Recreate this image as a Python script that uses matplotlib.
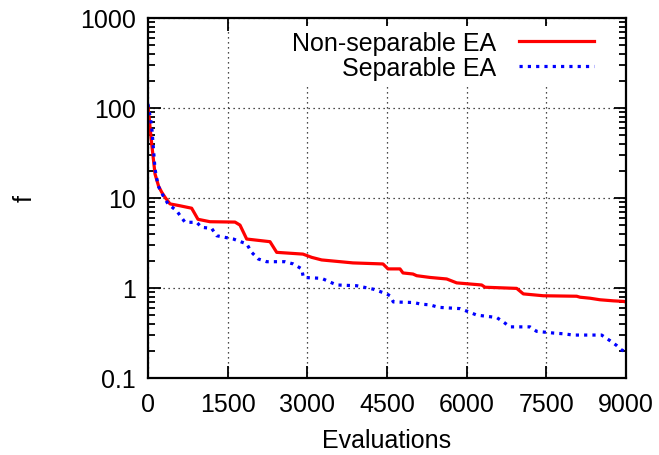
import numpy as np
import matplotlib; matplotlib.use("Agg")
import matplotlib.pyplot as plt
from matplotlib.ticker import FixedLocator, LogLocator, NullFormatter

plt.rcParams["font.family"] = ["Liberation Sans", "DejaVu Sans"]

# best-so-far f vs evaluations
nonsep_x = [0, 20, 60, 132, 200, 258, 320, 414, 600, 822, 941, 1167, 1638, 1732, 1858,
            2297, 2423, 2918, 3082, 3270, 3860, 4425, 4519, 4745, 4801, 4989, 5059, 5310,
            5624, 5812, 6283, 6345, 6942, 7067, 7443, 8072, 8134, 8322, 8510, 8761, 8950, 9000]
nonsep_y = [102, 80, 45, 18.5, 13.5, 11.6, 10.2, 8.6, 8.2, 7.7, 5.8, 5.45, 5.4, 5.0, 3.5,
            3.27, 2.49, 2.38, 2.19, 2.05, 1.9, 1.85, 1.63, 1.63, 1.47, 1.43, 1.37, 1.31,
            1.26, 1.14, 1.08, 1.02, 0.99, 0.86, 0.82, 0.81, 0.79, 0.77, 0.74, 0.72, 0.71, 0.70]

sep_x = [0, 69, 132, 190, 285, 377, 540, 697, 916, 1010, 1198, 1293, 1607, 1858, 1952,
         2077, 2234, 2580, 2736, 2894, 2925, 3270, 3553, 3929, 4243, 4494, 4556, 4619,
         4995, 5153, 5310, 5467, 5875, 6032, 6189, 6565, 6690, 6816, 7192, 7317, 7631,
         7819, 8008, 8541, 8698, 8823, 8917, 9000]
sep_y = [111, 63, 21, 13.7, 10.6, 8.6, 7.2, 5.37, 5.37, 4.72, 4.6, 3.81, 3.5, 3.09, 2.49,
         2.1, 1.96, 1.96, 1.85, 1.63, 1.31, 1.28, 1.08, 1.06, 0.97, 0.86, 0.82, 0.70,
         0.69, 0.66, 0.65, 0.61, 0.59, 0.545, 0.50, 0.47, 0.42, 0.37, 0.37, 0.33, 0.316,
         0.31, 0.30, 0.30, 0.26, 0.23, 0.205, 0.195]

x_ticks = [0, 1500, 3000, 4500, 6000, 7500, 9000]
y_ticks = [0.1, 1, 10, 100, 1000]
y_labels = ["0.1", "1", "10", "100", "1000"]

fig = plt.figure(figsize=(6.59, 4.56), dpi=100)
ax = fig.add_axes([148/659, 1-379/456, (626-148)/659, (379-19)/456])

ax.plot(nonsep_x, nonsep_y, "-", color="#ff0000", lw=2.3, label="Non-separable EA")
ax.plot(sep_x, sep_y, color="#0000ff", lw=2.3, ls=(0, (1, 1.6)), label="Separable EA")

ax.set_yscale("log")
ax.set_xlim(0, 9000); ax.set_ylim(0.1, 1000)
ax.xaxis.set_major_locator(FixedLocator(x_ticks))
ax.yaxis.set_major_locator(FixedLocator(y_ticks))
ax.set_yticklabels(y_labels)
ax.yaxis.set_minor_locator(LogLocator(base=10, subs=np.arange(2, 10)))
ax.yaxis.set_minor_formatter(NullFormatter())
ax.tick_params(which="both", direction="in", top=True, right=True, labelsize=18)
ax.tick_params(axis="y", pad=9)
ax.tick_params(axis="x", pad=10)
ax.tick_params(which="major", length=9, width=1.3)
ax.tick_params(which="minor", length=5, width=1.3)
for s in ax.spines.values(): s.set_linewidth(1.6)

ax.grid(True, which="major", color="#111111", lw=0.9, ls=(0, (1, 3)))
ax.set_xlabel("Evaluations", fontsize=18, labelpad=9)
ax.set_ylabel("f", fontsize=18, labelpad=31)

leg = ax.legend(loc="upper right", bbox_to_anchor=(0.954, 0.992), frameon=True, fontsize=18,
                markerfirst=False, handlelength=3.0, handletextpad=0.9, labelspacing=0.05,
                borderaxespad=0.2, borderpad=0.2, fancybox=False)
leg.get_frame().set_edgecolor("none"); leg.get_frame().set_facecolor("white")
leg.get_frame().set_alpha(1.0)

fig.savefig("out.png", dpi=100)
